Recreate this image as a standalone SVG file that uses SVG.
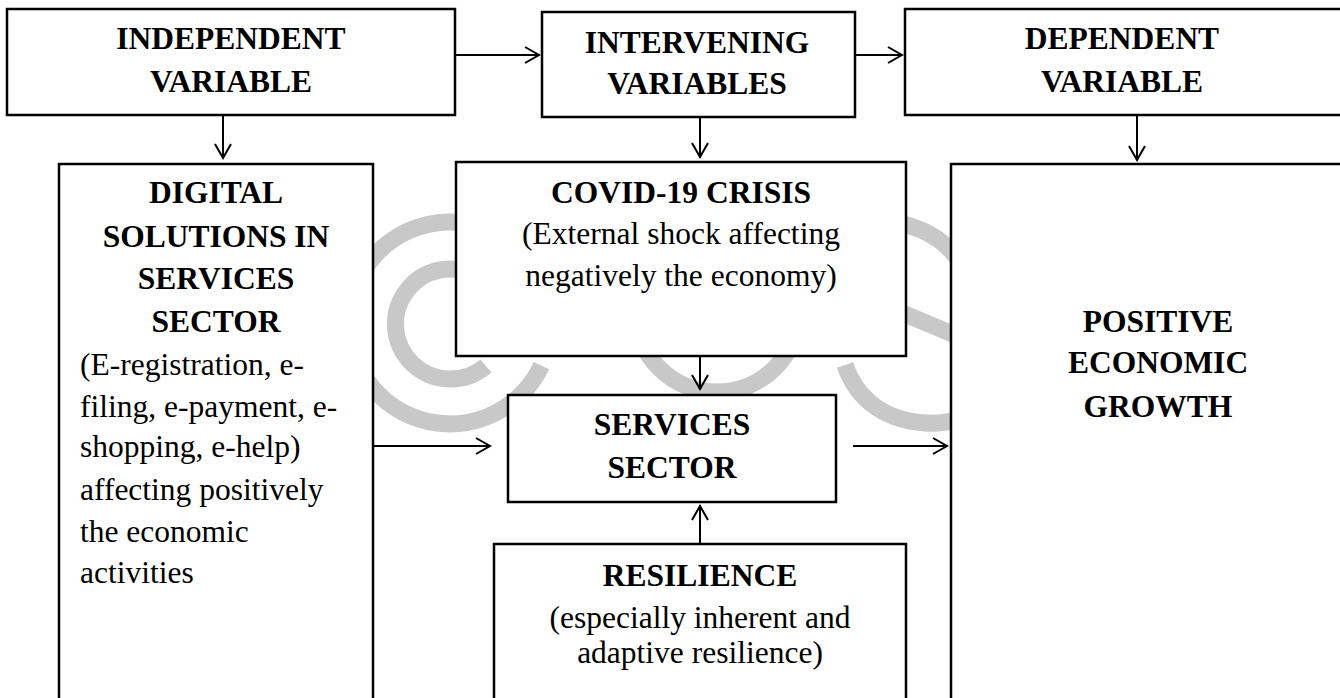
<svg xmlns="http://www.w3.org/2000/svg" width="1340" height="698" viewBox="0 0 1340 698">
<style>
.box{fill:#fff;stroke:#000;stroke-width:2.5}
.b{font-family:"Liberation Serif","Times New Roman",serif;font-weight:bold;font-size:31.5px;fill:#000;text-anchor:middle}
.r{font-family:"Liberation Serif","Times New Roman",serif;font-size:31.5px;fill:#000}
.rc{text-anchor:middle}
.wm{fill:none;stroke:#c8c8c8;stroke-width:17}
.con{fill:none;stroke:#000;stroke-width:2;marker-end:url(#ah)}
</style>
<defs>
<marker id="ah" viewBox="-16 -10 18 20" refX="0" refY="0" markerWidth="18" markerHeight="20" markerUnits="userSpaceOnUse" orient="auto">
<path d="M-14,-8 L0,0 L-14,8" fill="none" stroke="#000" stroke-width="2"/>
</marker>
</defs>
<rect width="1340" height="698" fill="#fff"/>
<g id="watermark">
<path class="wm" d="M541.5,365.7 A101,101 0 1 1 484.5,228"/>
<path class="wm" d="M486,366 A55,55 0 1 1 479,277"/>
<path class="wm" d="M635,170 L635,310 A82,82 0 0 0 799,310 L799,170"/>
<path class="wm" d="M960,262 C940,232 905,220 875,222 C840,224 820,250 830,275 C845,300 880,305 907,315 L950,333 C990,350 1000,380 985,400 C970,420 945,424 925,423 C880,420 855,395 845,365"/>
</g>
<g id="connectors">
<line class="con" x1="455" y1="55" x2="539" y2="55"/>
<line class="con" x1="855" y1="55" x2="902" y2="55"/>
<line class="con" x1="223" y1="115" x2="223" y2="158"/>
<line class="con" x1="700" y1="117" x2="700" y2="157"/>
<line class="con" x1="1137" y1="115" x2="1137" y2="160"/>
<line class="con" x1="700" y1="356" x2="700" y2="389"/>
<line class="con" x1="700" y1="544" x2="700" y2="506"/>
<line class="con" x1="373" y1="446" x2="490" y2="446"/>
<line class="con" x1="853" y1="446" x2="947" y2="446"/>
</g>
<g id="independent">
<rect class="box" x="7" y="9" width="448" height="106"/>
<text class="b" x="231" y="49">INDEPENDENT</text>
<text class="b" x="231" y="92">VARIABLE</text>
</g>
<g id="intervening">
<rect class="box" x="542" y="12" width="313" height="105"/>
<text class="b" x="697" y="53">INTERVENING</text>
<text class="b" x="697" y="94">VARIABLES</text>
</g>
<g id="dependent">
<rect class="box" x="905" y="9" width="460" height="106"/>
<text class="b" x="1122" y="49">DEPENDENT</text>
<text class="b" x="1122" y="92">VARIABLE</text>
</g>
<g id="digital">
<rect class="box" x="59" y="164" width="314" height="560"/>
<text class="b" x="216" y="203">DIGITAL</text>
<text class="b" x="216" y="247">SOLUTIONS IN</text>
<text class="b" x="216" y="289">SERVICES</text>
<text class="b" x="216" y="332">SECTOR</text>
<text class="r" x="80" y="375">(E-registration, e-</text>
<text class="r" x="80" y="417">filing, e-payment, e-</text>
<text class="r" x="80" y="457">shopping, e-help)</text>
<text class="r" x="80" y="500">affecting positively</text>
<text class="r" x="80" y="542">the economic</text>
<text class="r" x="80" y="583">activities</text>
</g>
<g id="covid">
<rect class="box" x="456" y="162" width="450" height="194"/>
<text class="b" x="681" y="203">COVID-19 CRISIS</text>
<text class="r rc" x="681" y="244">(External shock affecting</text>
<text class="r rc" x="681" y="286">negatively the economy)</text>
</g>
<g id="services">
<rect class="box" x="508" y="395" width="328" height="107"/>
<text class="b" x="672" y="435">SERVICES</text>
<text class="b" x="672" y="478">SECTOR</text>
</g>
<g id="resilience">
<rect class="box" x="494" y="544" width="412" height="200"/>
<text class="b" x="700" y="586">RESILIENCE</text>
<text class="r rc" x="700" y="628">(especially inherent and</text>
<text class="r rc" x="700" y="663">adaptive resilience)</text>
</g>
<g id="growth">
<rect class="box" x="951" y="164" width="420" height="560"/>
<text class="b" x="1158" y="332">POSITIVE</text>
<text class="b" x="1158" y="373">ECONOMIC</text>
<text class="b" x="1158" y="417">GROWTH</text>
</g>
</svg>
